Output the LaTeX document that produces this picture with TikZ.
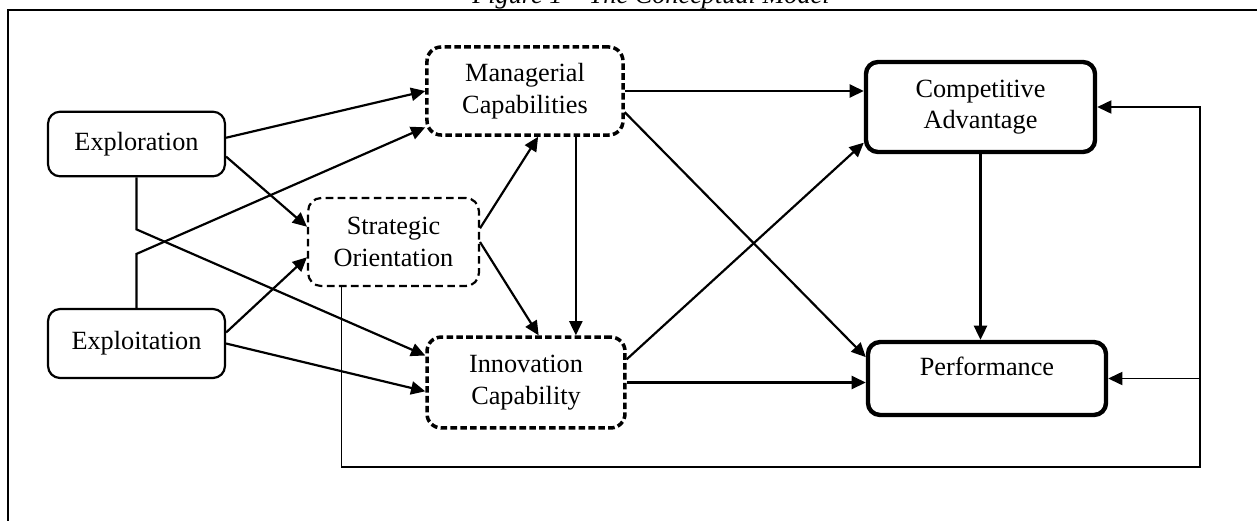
\documentclass[tikz,border=0pt]{standalone}
\usepackage{fontspec}
\setmainfont{Liberation Serif}
\usepackage{tikz}
\usetikzlibrary{arrows.meta}

\begin{document}
\begin{tikzpicture}[x=0.4566pt, y=-0.4566pt,
        font=\fontsize{12}{14.4}\selectfont,
        >={Triangle[length=6.5pt,width=6pt]},
        every node/.style={align=center},
        box/.style={draw=black, line width=1pt, rounded corners=5.5pt, minimum width=80.8pt, minimum height=29.5pt},
        softdash/.style={draw=black, line width=1pt, dash pattern=on 3.5pt off 2pt, rounded corners=6pt, minimum width=78pt, minimum height=40.2pt},
        heavydash/.style={draw=black, line width=1.6pt, dash pattern=on 3pt off 1.5pt, rounded corners=6.5pt, minimum width=89.5pt, minimum height=40.2pt},
        heavybox/.style={draw=black, line width=2pt, rounded corners=5.5pt},
        link/.style={->, line width=1pt}]
        	\useasboundingbox (0,0) rectangle (1257,520);
        	\clip (0,0) rectangle (1257,520);
        	% caption and frame
        	\node [font=\fontsize{12}{14.4}\selectfont\itshape, anchor=base] (title) at (651,3) {Figure 1 -- The Conceptual Model};
        	\draw [line width=1pt] (8,540) -- (8,10) -- (1280,10);
        	% boxes
        	\node [box] (exploration) at (136.5,144) {Exploration};
        	\node [box, minimum height=31.5pt] (exploitation) at (136.5,343.5) {Exploitation};
        	\node [softdash] (strategy) at (393.5,242) {Strategic\\Orientation};
        	\node [heavydash] (managerial) at (525,91) {Managerial\\Capabilities};
        	\node [heavydash, minimum width=90.4pt, minimum height=41.5pt] (innovation) at (526,382.5) {Innovation\\Capability};
        	\node [heavybox, minimum width=104.6pt, minimum height=41.1pt] (advantage) at (980.5,107) {Competitive\\Advantage};
        	\node [heavybox, minimum width=108.7pt, minimum height=33.3pt, text depth=11pt] (performance) at (987,378.5) {Performance};
        	% arrows
        	\draw [link] (exploration.4) -- (managerial.west);
        	\draw [link] (exploitation.north) -- ++(0,-54) -- (managerial.200);
        	\draw [link] (exploration.south) -- ++(0,52) -- (innovation.165);
        	\draw [link] (exploration.-8) -- (strategy.170);
        	\draw [link] (exploitation.7) -- (strategy.190);
        	\draw [link] (exploitation.east) -- (innovation.185);
        	\draw [link] (strategy.9) -- (managerial.-74);
        	\draw [link] (strategy.east) -- (innovation.75);
        	\draw [link] (managerial.-42.5) -- (managerial.-42.5 |- innovation.north);
        	\draw [link] (managerial.east) -- (managerial.east -| advantage.west);
        	\draw [link] (managerial.-12) -- (performance.170);
        	\draw [link] (innovation.13) -- (advantage.197);
        	\draw [link] (innovation.east) -- (innovation.east -| performance.west);
        	\draw [link] (advantage.south) -- (advantage.south |- performance.north);
        	% feedback loop
        	\coordinate (loop) at (1200,467);
        	\draw [link, line width=0.8pt] (strategy.-139.5) |- (loop) |- (advantage.east);
        	\draw [link, line width=0.8pt] (loop |- performance.east) -- (performance.east);
        \end{tikzpicture}
\end{document}
